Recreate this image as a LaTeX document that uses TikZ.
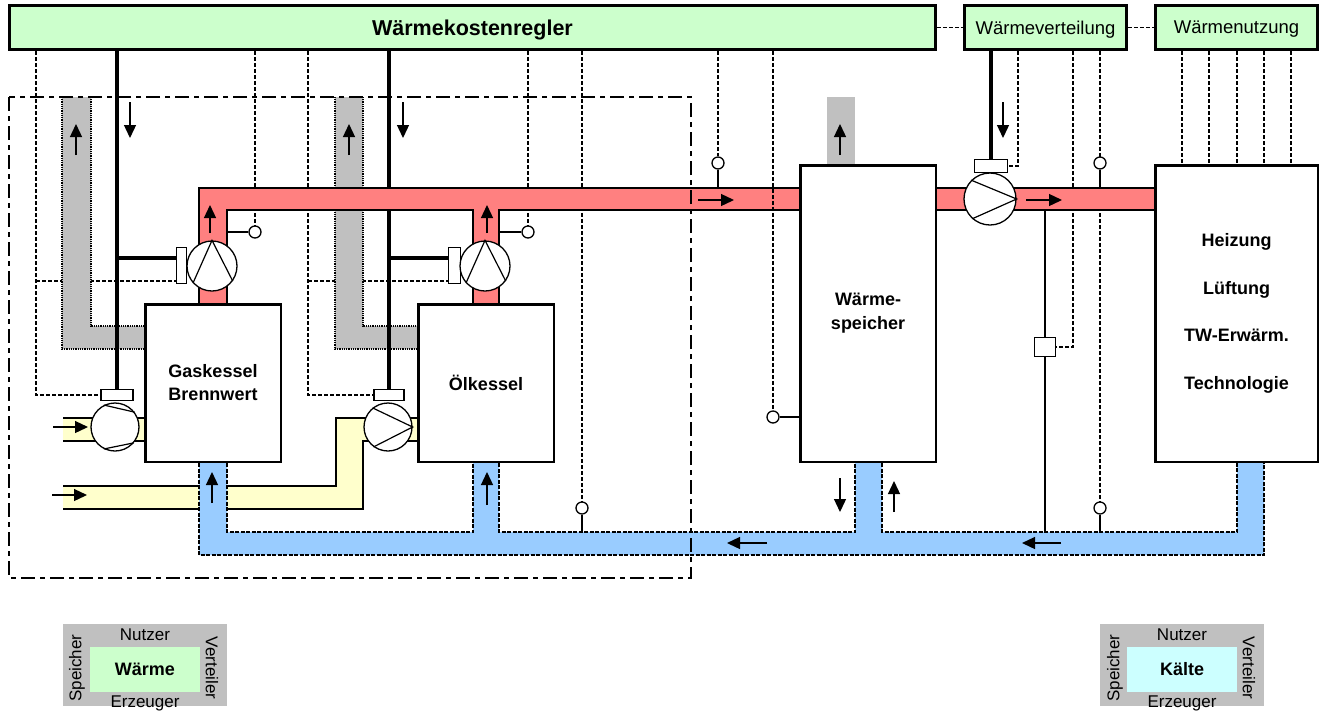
\documentclass[tikz,border=0pt]{standalone}
\usepackage{fontspec}
\setmainfont{Liberation Sans}
\usetikzlibrary{arrows.meta}
\definecolor{hgreen}{HTML}{CCFFCC}
\definecolor{redp}{HTML}{FF8080}
\definecolor{bluep}{HTML}{99CCFF}
\definecolor{yelp}{HTML}{FFFFCC}
\definecolor{grayp}{HTML}{C0C0C0}
\definecolor{kcyan}{HTML}{CCFFFF}
\pgfdeclarelayer{bgl}
\pgfdeclarelayer{sigl}
\pgfdeclarelayer{duct}
\pgfdeclarelayer{ctll}
\pgfdeclarelayer{yell}
\pgfdeclarelayer{blul}
\pgfdeclarelayer{redl}
\pgfdeclarelayer{over}
\pgfsetlayers{bgl,sigl,duct,ctll,yell,blul,redl,over,main}
\begin{document}
\begin{tikzpicture}[x=1pt,y=-1pt,
  box/.style={draw,line width=2.5pt,fill=white,inner sep=0pt,align=center,font=\fontsize{18}{23}\selectfont\bfseries},
  hdr/.style={draw,line width=2.8pt,fill=hgreen,inner sep=0pt,minimum height=44pt,text depth=0pt},
  sig/.style={line width=1.5pt,dash pattern=on 4pt off 2pt},
  ctl/.style={line width=3.2pt},
  pedge/.style={line width=2.2pt},
  bedge/.style={line width=1.8pt,dash pattern=on 4pt off 1.5pt},
  gedge/.style={line width=1.6pt,dash pattern=on 1pt off 0.8pt},
  ddot/.style={line width=2pt,dash pattern=on 14pt off 5pt on 5pt off 5pt},
  flow/.style={line width=1.3pt,-{Triangle[length=13pt,width=12pt]}},
  pump/.style={circle,draw,line width=1.3pt,fill=white,inner sep=0pt},
  act/.style={draw,line width=1.2pt,fill=white,inner sep=0pt},
  sens/.style={circle,draw,line width=1.3pt,fill=white,inner sep=0pt,minimum size=12pt},
  pl/.style={line width=1.2pt},
  sl/.style={line width=1.6pt},
  leg/.style={font=\fontsize{17}{20}\selectfont,inner sep=0pt}
]
\begin{pgfonlayer}{bgl}
\fill[white] (0,0) rectangle (1324,716);
\end{pgfonlayer}
\useasboundingbox (0,0) rectangle (1324,716);

% ---------- header boxes
\node[hdr,minimum width=926pt,font=\fontsize{21.5}{24}\selectfont\bfseries] (kr) at (472.5,27.5) {Wärmekostenregler};
\node[hdr,minimum width=162pt,font=\fontsize{18.5}{22}\selectfont] (wv) at (1045.5,27.5) {Wärmeverteilung};
\node[hdr,minimum width=162pt,font=\fontsize{18.5}{22}\selectfont] (wn) at (1236.5,27.5) {Wärmenutzung};

% ---------- main boxes
\node[box,minimum width=135.5pt,minimum height=157.5pt] (gk) at (213,383) {Gaskessel\\Brennwert};
\node[box,minimum width=135.5pt,minimum height=157.5pt] (ok) at (486,383) {Ölkessel};
\node[box,minimum width=135.5pt,minimum height=296.5pt,font=\fontsize{18}{24}\selectfont\bfseries] (sp) at (868,313.5) {Wärme-\\speicher};
\node[box,minimum width=162.5pt,minimum height=296.5pt,font=\fontsize{18}{47.5}\selectfont\bfseries] (nu) at (1236.5,313.5) {Heizung\\Lüftung\\TW-Erwärm.\\Technologie};

% ---------- pumps
\node[act,minimum width=10pt,minimum height=36pt] (m1) at (181.5,265.5) {};
\node[pump,minimum size=50pt] (p1) at (212,266) {};
\draw[pl] (p1.222) -- (p1.north) -- (p1.-36);
\node[act,minimum width=12pt,minimum height=36pt] (m2) at (454.5,265.5) {};
\node[pump,minimum size=50pt] (p2) at (485,266) {};
\draw[pl] (p2.222) -- (p2.north) -- (p2.-36);
\node[act,minimum width=32pt,minimum height=11pt] (a3) at (117,395) {};
\node[pump,minimum size=48pt] (p3) at (115,427) {};
\draw[pl] (p3.117) -- (p3.37) (p3.243) -- (p3.320);
\node[act,minimum width=30pt,minimum height=11pt] (a4) at (389,395) {};
\node[pump,minimum size=48pt] (p4) at (388,427) {};
\draw[pl] (p4.129) -- (p4.east) -- (p4.234);
\node[act,minimum width=33pt,minimum height=13pt] (a5) at (991,166) {};
\node[pump,minimum size=52pt] (p5) at (990,199) {};
\draw[pl] (p5.135) -- (p5.east) -- (p5.228);

% ---------- sensors and valve
\node[sens] (s1) at (255,232) {};
\node[sens] (s2) at (528,232) {};
\node[sens] (s3) at (718,163) {};
\node[sens] (s4) at (773,417) {};
\node[sens] (s5) at (582,508) {};
\node[sens] (s6) at (1100,163) {};
\node[sens] (s7) at (1100,508) {};
\node[act,minimum width=21pt,minimum height=19pt] (v) at (1045,347) {};

\coordinate (c36) at (36,51);
\coordinate (c308) at (308,51);
\coordinate (c1018) at (1018,51);
\coordinate (c1073) at (1073,51);
\coordinate (t1) at (117,258);
\coordinate (t2) at (390,258);

% ---------- hidden signal lines
\begin{pgfonlayer}{sigl}
 \draw[sig] (c36) |- (a3.west);
 \draw[sig] (36,281) -- (m1.west |- 36,281);
 \draw[sig] (c308) |- (a4.west);
 \draw[sig] (308,281) -- (m2.west |- 308,281);
 \draw[sig] (s1 |- kr.south) -- (s1.north);
 \draw[sig] (s2 |- kr.south) -- (s2.north);
 \draw[sig] (s3 |- kr.south) -- (s3.north);
 \draw[sig] (s5 |- kr.south) -- (s5.north);
 \draw[sig] (s7 |- wv.south) -- (s7.north);
 \draw[sig] (c1018) |- (a5.east);
 \draw[sig] (c1073) |- (v.east);
 \draw[sig] (kr.east) -- (wv.west);
 \draw[sig] (wv.east) -- (wn.west);
 \foreach \xx in {1182,1209,1237,1264,1291}
   \draw[sig] (\xx,51) -- (\xx,164);
\end{pgfonlayer}

% ---------- flue ducts
\begin{pgfonlayer}{duct}
 \fill[grayp] (62,97) rectangle (91,349) (62,326) rectangle (145,349);
 \draw[gedge] (62,97) -- (62,349) -- (145,349) (91,97) -- (91,326) -- (145,326);
 \fill[grayp] (335,97) rectangle (363,349) (335,326) rectangle (417,349);
 \draw[gedge] (335,97) -- (335,349) -- (417,349) (363,97) -- (363,326) -- (417,326);
 \fill[grayp] (827,97) rectangle (855,164);
\end{pgfonlayer}

% ---------- control lines
\begin{pgfonlayer}{ctll}
 \draw[ctl] (a3.north |- kr.south) -- (a3.north);
 \draw[ctl] (t1) -- (t1 -| m1.west);
 \draw[ctl] (a4.north |- kr.south) -- (a4.north);
 \draw[ctl] (t2) -- (t2 -| m2.west);
 \draw[ctl] (a5.north |- wv.south) -- (a5.north);
\end{pgfonlayer}

% ---------- fuel pipes
\begin{pgfonlayer}{yell}
 \fill[yelp] (63,418) rectangle (145,441);
 \draw[pedge] (63,418) -- (145,418) (63,441) -- (145,441);
 \fill[yelp] (63,486) rectangle (363,509) (336,418) rectangle (363,509) (336,418) rectangle (417,441);
 \draw[pedge] (63,486) -- (336,486) -- (336,418) -- (417,418) (63,509) -- (363,509) -- (363,441) -- (417,441);
\end{pgfonlayer}

% ---------- return pipe
\begin{pgfonlayer}{blul}
 \fill[bluep] (199,463) rectangle (227,555) (199,532) rectangle (1264,555) (473,463) rectangle (499,532) (855,463) rectangle (882,532) (1237,463) rectangle (1264,555);
 \draw[bedge] (199,463) -- (199,555) -- (1264,555) -- (1264,463);
 \draw[bedge] (227,463) -- (227,532) -- (473,532) -- (473,463);
 \draw[bedge] (499,463) -- (499,532) -- (855,532) -- (855,463);
 \draw[bedge] (882,463) -- (882,532) -- (1237,532) -- (1237,463);
\end{pgfonlayer}

% ---------- flow pipe
\begin{pgfonlayer}{redl}
 \fill[redp] (199,188) rectangle (799,210) (199,188) rectangle (227,303) (473,188) rectangle (499,303) (937,188) rectangle (1154,210);
 \draw[pedge] (199,303) -- (199,188) -- (799,188);
 \draw[pedge] (227,303) -- (227,210) -- (473,210) -- (473,303);
 \draw[pedge] (499,303) -- (499,210) -- (799,210);
 \draw[pedge] (937,188) -- (1154,188) (937,210) -- (1154,210);
\end{pgfonlayer}

% ---------- visible overlays
\begin{pgfonlayer}{over}
 \draw[ddot] (9,97) rectangle (691,578);
 \draw[sig] (s4 |- kr.south) -- (s4.north);
 \draw[sl] (s1.west) -- ++(-22,0);
 \draw[sl] (s2.west) -- ++(-23,0);
 \draw[sl] (s3.south) -- (718,188);
 \draw[sl] (s4.east) -- (s4.east -| sp.west);
 \draw[sl] (s5.south) -- (582,532);
 \draw[sl] (s6.south) -- (1100,188);
 \draw[sl] (s7.south) -- (1100,532);
 \draw[line width=2pt] (1045,210) -- (v.north) (v.south) -- (1045,532);
\end{pgfonlayer}

% ---------- flow arrows
\draw[flow] (130,102) -- (130,138);
\draw[flow] (403,102) -- (403,138);
\draw[flow] (1003,102) -- (1003,138);
\draw[flow] (76,155) -- (76,124);
\draw[flow] (349,155) -- (349,124);
\draw[flow] (840,155) -- (840,124);
\draw[flow] (210,233) -- (210,205);
\draw[flow] (487,233) -- (487,205);
\draw[flow] (698,200) -- (734,200);
\draw[flow] (1026,200) -- (1062,200);
\draw[flow] (53,427) -- (88,427);
\draw[flow] (52,495) -- (87,495);
\draw[flow] (212,503) -- (212,472);
\draw[flow] (487,505) -- (487,472);
\draw[flow] (840,478) -- (840,512);
\draw[flow] (894,512) -- (894,481);
\draw[flow] (767,543) -- (727,543);
\draw[flow] (1061,543) -- (1022,543);

% ---------- legends
\node[fill=grayp,minimum width=164pt,minimum height=82pt,inner sep=0pt] (lg1) at (145,665) {};
\node[fill=hgreen,minimum width=110pt,minimum height=45pt,inner sep=0pt,font=\fontsize{18}{20}\selectfont\bfseries] (lw) at (145,669.5) {Wärme};
\node[leg,anchor=base] (lg1n) at (145,640) {Nutzer};
\node[leg,anchor=base] (lg1e) at (145,707) {Erzeuger};
\node[leg,rotate=90] (lg1s) at (77,668) {Speicher};
\node[leg,rotate=-90] (lg1v) at (212,668) {Verteiler};

\node[fill=grayp,minimum width=164pt,minimum height=82pt,inner sep=0pt] (lg2) at (1182,665) {};
\node[fill=kcyan,minimum width=110pt,minimum height=45pt,inner sep=0pt,font=\fontsize{18}{20}\selectfont\bfseries] (lk) at (1182,669.5) {Kälte};
\node[leg,anchor=base] (lg2n) at (1182,640) {Nutzer};
\node[leg,anchor=base] (lg2e) at (1182,707) {Erzeuger};
\node[leg,rotate=90] (lg2s) at (1115,668) {Speicher};
\node[leg,rotate=-90] (lg2v) at (1249,668) {Verteiler};
\end{tikzpicture}
\end{document}
